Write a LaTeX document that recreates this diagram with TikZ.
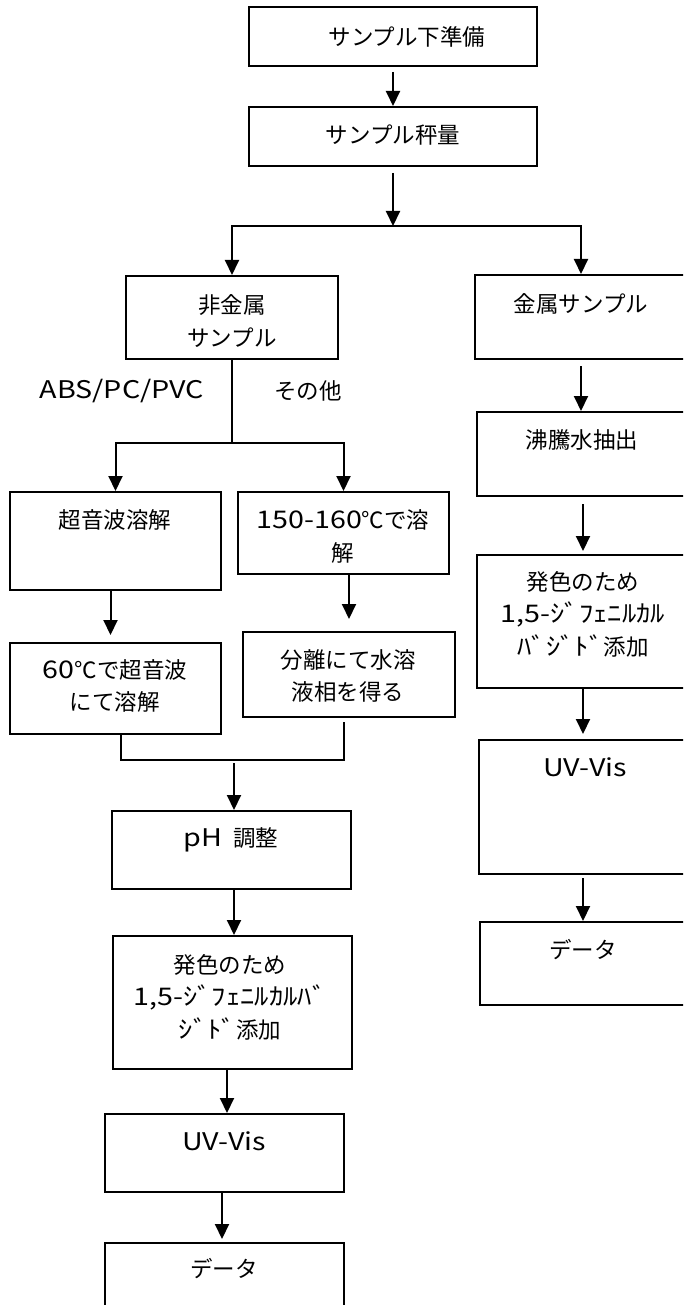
\documentclass[tikz,border=0pt]{standalone}
\usepackage{fontspec}
\setmainfont{Noto Sans CJK JP}
\newfontfamily\hw{Noto Sans CJK JP}[Scale=1.08, FakeStretch=1.18]
\usetikzlibrary{arrows.meta}

\begin{document}
\begin{tikzpicture}
[
    x=1pt, y=-1pt, line width=2pt,
    box/.style={rectangle, draw, minimum width=212pt, inner sep=0pt},
    widebox/.style={box, minimum width=239pt},
    arr/.style={-{Triangle[length=15pt,width=14pt]}}]
    \tikzstyle{txt}=[align=center, inner sep=0pt, font=\fontsize{22.5}{32.5}\selectfont]
    \useasboundingbox (0,0) rectangle (683,1305);
    \clip (0,0) rectangle (683,1305);
    % boxes
    \node[box, minimum width=288pt, minimum height=59pt] (prep) at (393,36.5) {};
    \node[box, minimum width=288pt, minimum height=59pt] (weigh) at (393,136.5) {};
    \node[box, minimum height=83pt] (nonmetal) at (232,317.5) {};
    \node[box, minimum height=84pt] (metal) at (581,317) {};
    \node[box, minimum width=211pt, minimum height=98pt] (ultra) at (115.5,541) {};
    \node[box, minimum width=211pt, minimum height=82pt] (heat) at (343.5,533) {};
    \node[box, minimum width=211pt, minimum height=91pt] (ultrasixty) at (115.5,688.5) {};
    \node[box, minimum height=85pt] (sep) at (349,674.5) {};
    \node[widebox, minimum height=78pt] (ph) at (231.5,850) {};
    \node[widebox, minimum height=133pt] (colorL) at (232,1002.5) {};
    \node[widebox, minimum height=78pt] (uvL) at (224.5,1153) {};
    \node[widebox, minimum height=78pt] (dataL) at (224.5,1282) {};
    \node[box, minimum height=84pt] (boil) at (583,454) {};
    \node[box, minimum height=133pt] (colorR) at (583,621.5) {};
    \node[box, minimum height=134pt] (uvR) at (585,807) {};
    \node[box, minimum height=83pt] (dataR) at (586,963.5) {};
    % texts
    \node[txt] (prep-t) at (407,37) {サンプル下準備};
    \node[txt] (weigh-t) at (393,135) {サンプル秤量};
    \node[txt] (nonmetal-t) at (232,321) {非金属\\サンプル};
    \node[txt] (metal-t) at (581,304) {金属サンプル};
    \node[txt] (abs) at (122,391) {\hw ABS/PC/PVC};
    \node[txt] (other) at (308,391) {その他};
    \node[txt] (ultra-t) at (115,520) {超音波溶解};
    \node[txt] (heat-t) at (343,536.5) {{\hw 150-160}℃で溶\\解};
    \node[txt] (ultrasixty-t) at (115,686) {{\hw 60}℃で超音波\\にて溶解};
    \node[txt] (sep-t) at (348,676) {分離にて水溶\\液相を得る};
    \node[txt] (ph-t) at (231,840) {{\hw pH}\enspace 調整};
    \node[txt] (colorL-t) at (230,997) {発色のため\\{\hw 1,5-ｼﾞﾌｪﾆﾙｶﾙﾊﾞ}\\{\hw ｼﾞﾄﾞ}添加};
    \node[txt] (uvL-t) at (224,1141) {\hw UV-Vis};
    \node[txt] (dataL-t) at (224,1269) {データ};
    \node[txt] (boil-t) at (582,440) {沸騰水抽出};
    \node[txt] (colorR-t) at (583,614) {発色のため\\{\hw 1,5-ｼﾞﾌｪﾆﾙｶﾙ}\\{\hw ﾊﾞｼﾞﾄﾞ}添加};
    \node[txt] (uvR-t) at (585,767) {\hw UV-Vis};
    \node[txt] (dataR-t) at (583,950) {データ};
    % connectors
    \coordinate (split) at (393,226);
    \coordinate (fork) at (232,443);
    \coordinate (merge) at (234,760);
    \draw[arr] ([yshift=-5pt]prep.south) -- (weigh.north);
    \draw[arr] ([yshift=-6pt]weigh.south) -- (split);
    \draw[arr] (split) -| (nonmetal.north);
    \draw[arr] (split) -| (metal.north);
    \draw (nonmetal.south) -- (fork);
    \draw[arr] (fork) -| (ultra.north);
    \draw[arr] (fork) -| (heat.north);
    \draw[arr] ([xshift=-5pt]ultra.south) -- ([xshift=-5pt,yshift=7pt]ultrasixty.north);
    \draw[arr] (sep.north |- heat.south) -- ([yshift=12pt]sep.north);
    \draw ([xshift=5.5pt]ultrasixty.south) |- (merge) -| ([xshift=-5pt,yshift=-4pt]sep.south);
    \draw[arr] ([yshift=-3pt]merge) -- (merge |- ph.north);
    \draw[arr] (ph.south -| merge) -- (merge |- colorL.north);
    \draw[arr] ([xshift=-5pt]colorL.south) -- ([xshift=2.5pt]uvL.north);
    \draw[arr] ([xshift=-2.5pt]uvL.south) -- ([xshift=-2.5pt,yshift=3pt]dataL.north);
    \draw[arr] ([yshift=-6pt]metal.south) -- (metal.south |- boil.north);
    \draw[arr] ([yshift=-7pt]boil.south) -- ([yshift=3pt]colorR.north);
    \draw[arr] (colorR.south) -- ([yshift=5pt]colorR.south |- uvR.north);
    \draw[arr] ([xshift=-2pt,yshift=-3pt]uvR.south) -- ([xshift=-3pt]dataR.north);
\end{tikzpicture}
\end{document}
